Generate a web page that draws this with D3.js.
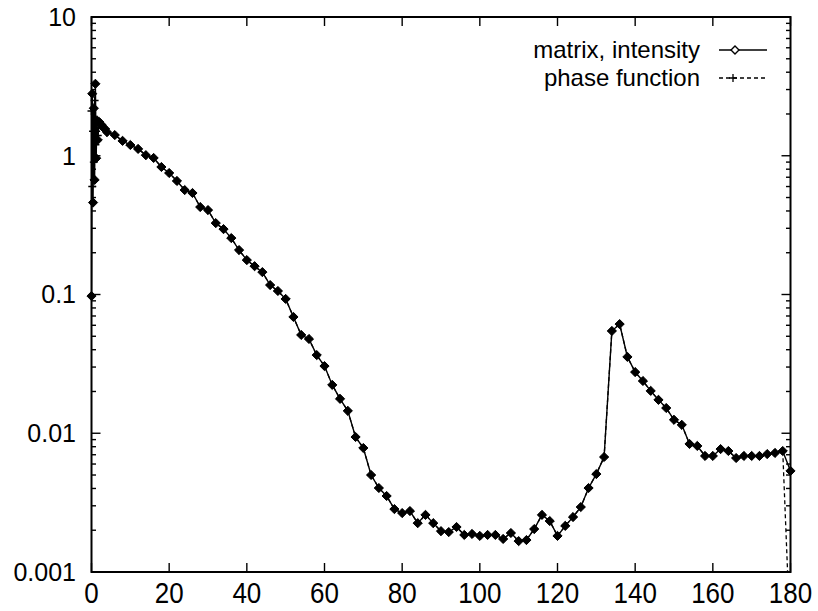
<!DOCTYPE html>
<html>
<head>
<meta charset="utf-8">
<script src="https://cdn.jsdelivr.net/npm/d3@7"></script>
<style>
  body { margin: 0; background: #fff; }
  svg { display: block; }
  text { font-family: "Liberation Sans", Arial, sans-serif; fill: #000; }
</style>
</head>
<body>
<svg id="chart"></svg>
<script>
// scattering angle (deg)
const angle = [0, 0.2, 0.4, 0.6, 0.8, 1.0, 1.2, 1.4, 1.6, 2, 2.5, 3, 3.5, 4,
  6, 8, 10, 12, 14, 16, 18, 20, 22, 24, 26, 28, 30, 32, 34, 36, 38, 40, 42, 44, 46, 48,
  50, 52, 54, 56, 58, 60, 62, 64, 66, 68, 70, 72, 74, 76, 78, 80, 82, 84, 86, 88, 90,
  92, 94, 96, 98, 100, 102, 104, 106, 108, 110, 112, 114, 116, 118, 120, 122, 124,
  126, 128, 130, 132, 134, 136, 138, 140, 142, 144, 146, 148, 150, 152, 154, 156,
  158, 160, 162, 164, 166, 168, 170, 172, 174, 176, 178, 180];

const matrixIntensity = [0.0975, 2.8, 0.46, 2.2, 0.67, 3.3, 0.96, 1.8, 1.3, 1.75, 1.68, 1.6, 1.56, 1.48,
  1.41, 1.28, 1.195, 1.12, 1.01, 0.964, 0.83, 0.751, 0.658, 0.566, 0.539, 0.427, 0.406, 0.327, 0.296, 0.255, 0.209, 0.177, 0.16, 0.145, 0.117, 0.106,
  0.0929, 0.0689, 0.0511, 0.0478, 0.0366, 0.0305, 0.0223, 0.0177, 0.0145, 0.0094, 0.00783, 0.005, 0.00403, 0.00353, 0.00284, 0.00266, 0.00275, 0.00225, 0.00258, 0.00225, 0.00197,
  0.00194, 0.00211, 0.00185, 0.00188, 0.00182, 0.00185, 0.00185, 0.00173, 0.00191, 0.00167, 0.0017, 0.00204, 0.00258, 0.00233, 0.00182, 0.00215, 0.00249,
  0.00294, 0.00403, 0.00508, 0.00674, 0.0546, 0.0612, 0.0355, 0.0276, 0.0238, 0.0202, 0.0174, 0.0152, 0.0125, 0.0115, 0.00837, 0.0081,
  0.00686, 0.00686, 0.00769, 0.00745, 0.00663, 0.00686, 0.00686, 0.00686, 0.00708, 0.00721, 0.00745, 0.00535];

const phaseFunction = [2.1, 0.6, 1.5, 0.9, 2.5, 1.2, 1.5, 1.6, 1.4, 1.75, 1.68, 1.6, 1.56, 1.48,
  1.41, 1.28, 1.195, 1.12, 1.01, 0.964, 0.83, 0.751, 0.658, 0.566, 0.539, 0.427, 0.406, 0.327, 0.296, 0.255, 0.209, 0.177, 0.16, 0.145, 0.117, 0.106,
  0.0929, 0.0689, 0.0511, 0.0478, 0.0366, 0.0305, 0.0223, 0.0177, 0.0145, 0.0094, 0.00783, 0.005, 0.00403, 0.00353, 0.00284, 0.00266, 0.00275, 0.00225, 0.00258, 0.00225, 0.00197,
  0.00194, 0.00211, 0.00185, 0.00188, 0.00182, 0.00185, 0.00185, 0.00173, 0.00191, 0.00167, 0.0017, 0.00204, 0.00258, 0.00233, 0.00182, 0.00215, 0.00249,
  0.00294, 0.00403, 0.00508, 0.00674, 0.0546, 0.0612, 0.0355, 0.0276, 0.0238, 0.0202, 0.0174, 0.0152, 0.0125, 0.0115, 0.00837, 0.0081,
  0.00686, 0.00686, 0.00769, 0.00745, 0.00663, 0.00686, 0.00686, 0.00686, 0.00708, 0.00721, 0.00745, 0.0003];

const xTicks = [0, 20, 40, 60, 80, 100, 120, 140, 160, 180];
const yTicks = [0.001, 0.01, 0.1, 1, 10];
const yTickLabels = ["0.001", "0.01", "0.1", "1", "10"];
const seriesNames = ["matrix, intensity", "phase function"];

const width = 818;
const height = 611;
const plotLeft = 91.5, plotRight = 790.5, plotTop = 17, plotBottom = 572;

const svg = d3.select("#chart")
  .attr("width", width)
  .attr("height", height);

const x = d3.scaleLinear().domain([0, 180]).range([plotLeft, plotRight]);
const y = d3.scaleLog().domain([0.001, 10]).range([plotBottom, plotTop]);

const minorTicks = y.ticks().filter(t => !yTicks.some(m => Math.abs(m - t) < 1e-12));

svg.append("clipPath").attr("id", "plot-area")
  .append("rect")
  .attr("x", plotLeft).attr("y", plotTop)
  .attr("width", plotRight - plotLeft).attr("height", plotBottom - plotTop);

// ticks, drawn inward on all four sides
const ticks = svg.append("g").attr("stroke", "#000").attr("stroke-width", 1.4);
xTicks.forEach(t => {
  ticks.append("line").attr("x1", x(t)).attr("x2", x(t)).attr("y1", plotBottom).attr("y2", plotBottom - 9);
  ticks.append("line").attr("x1", x(t)).attr("x2", x(t)).attr("y1", plotTop).attr("y2", plotTop + 9);
});
yTicks.forEach(t => {
  ticks.append("line").attr("x1", plotLeft).attr("x2", plotLeft + 9).attr("y1", y(t)).attr("y2", y(t));
  ticks.append("line").attr("x1", plotRight).attr("x2", plotRight - 9).attr("y1", y(t)).attr("y2", y(t));
});
minorTicks.forEach(t => {
  ticks.append("line").attr("x1", plotLeft).attr("x2", plotLeft + 4.5).attr("y1", y(t)).attr("y2", y(t));
  ticks.append("line").attr("x1", plotRight).attr("x2", plotRight - 4.5).attr("y1", y(t)).attr("y2", y(t));
});

svg.append("rect")
  .attr("x", plotLeft).attr("y", plotTop)
  .attr("width", plotRight - plotLeft).attr("height", plotBottom - plotTop)
  .attr("fill", "none").attr("stroke", "#000").attr("stroke-width", 2);

// x labels are a bit taller than wide in the scan
svg.append("g").selectAll("text")
  .data(xTicks).join("text")
  .attr("transform", d => `translate(${x(d)},603) scale(1,1.15)`)
  .attr("text-anchor", "middle")
  .attr("font-size", 26)
  .text(d => d);

svg.append("g").selectAll("text")
  .data(yTicks).join("text")
  .attr("x", 76)
  .attr("y", d => y(d))
  .attr("dy", "0.35em")
  .attr("text-anchor", "end")
  .attr("font-size", 25)
  .text((d, i) => yTickLabels[i]);

const points = angle.map((a, i) => ({ a, m: matrixIntensity[i], p: phaseFunction[i] }));

const diamond = r => `M0,${-r}L${r},0L0,${r}L${-r},0Z`;
const plus = r => `M${-r},0H${r}M0,${-r}V${r}`;

const plot = svg.append("g").attr("clip-path", "url(#plot-area)");

plot.append("path")
  .datum(points)
  .attr("fill", "none")
  .attr("stroke", "#000")
  .attr("stroke-width", 1.3)
  .attr("stroke-dasharray", "4,3")
  .attr("d", d3.line().x(d => x(d.a)).y(d => y(d.p)));

plot.append("path")
  .datum(points)
  .attr("fill", "none")
  .attr("stroke", "#000")
  .attr("stroke-width", 1.4)
  .attr("d", d3.line().x(d => x(d.a)).y(d => y(d.m)));

svg.append("g").selectAll("path")
  .data(points.filter(d => d.p >= 0.001)).join("path")
  .attr("transform", d => `translate(${x(d.a)},${y(d.p)})`)
  .attr("d", plus(4))
  .attr("stroke", "#000")
  .attr("stroke-width", 1.4);

svg.append("g").selectAll("path")
  .data(points).join("path")
  .attr("transform", d => `translate(${x(d.a)},${y(d.m)})`)
  .attr("d", diamond(4.6))
  .attr("fill", "#000")
  .attr("stroke", "#000")
  .attr("stroke-width", 1);

// legend
const legend = svg.append("g");
const rowY = [50, 78];
seriesNames.forEach((name, i) => {
  legend.append("text")
    .attr("x", 700)
    .attr("y", rowY[i])
    .attr("dy", "0.35em")
    .attr("text-anchor", "end")
    .attr("font-size", 24)
    .text(name);
  legend.append("line")
    .attr("x1", 719).attr("x2", 767)
    .attr("y1", rowY[i]).attr("y2", rowY[i])
    .attr("stroke", "#000")
    .attr("stroke-width", 1.3)
    .attr("stroke-dasharray", i === 1 ? "4,3" : null);
});
legend.append("path")
  .attr("transform", `translate(735,${rowY[0]})`)
  .attr("d", diamond(4))
  .attr("fill", "#fff")
  .attr("stroke", "#000")
  .attr("stroke-width", 1.4);
legend.append("path")
  .attr("transform", `translate(733,${rowY[1]})`)
  .attr("d", plus(4))
  .attr("stroke", "#000")
  .attr("stroke-width", 1.3);
</script>
</body>
</html>
